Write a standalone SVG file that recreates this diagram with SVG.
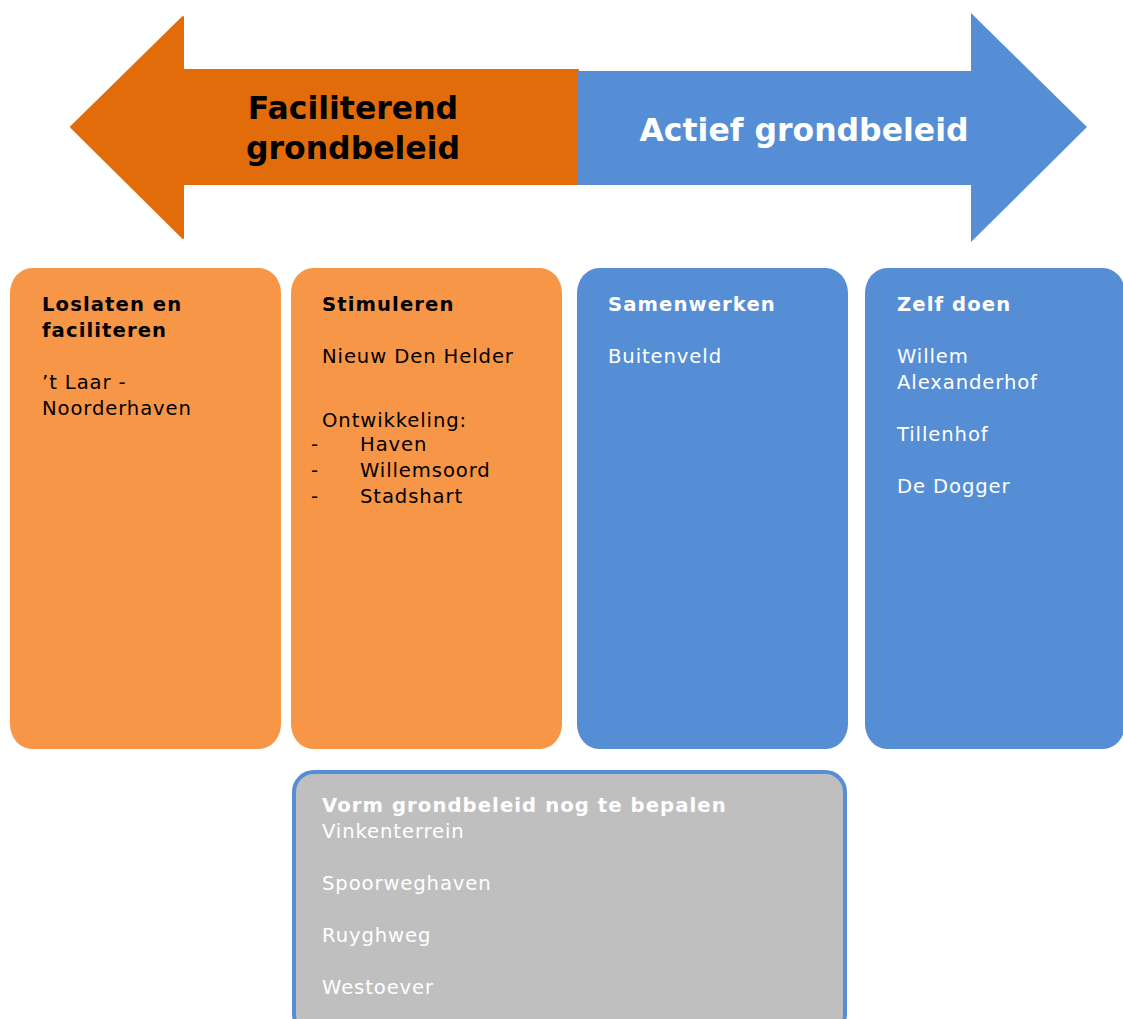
<svg xmlns="http://www.w3.org/2000/svg" width="1123" height="1019" viewBox="0 0 1123 1019">
<style>
text{font-family:"DejaVu Sans","Verdana",sans-serif;font-size:19.6px;letter-spacing:0.9px}
.b{font-weight:bold;letter-spacing:1.1px}
.k{fill:#000}
.w{fill:#fff}
.big{font-size:31.5px;font-weight:bold;letter-spacing:0}
.or{fill:#F79646}
.bl{fill:#558ED5}
</style>
<rect width="1123" height="1019" fill="#fff"/>
<g id="arrow-left">
<path d="M71 127 L183 17 L183 70 L578 70 L578 184 L183 184 L183 238 Z" fill="#E36C0A" stroke="#E36C0A" stroke-width="2" stroke-linejoin="round"/>
<text class="big k" x="353" y="119" text-anchor="middle">Faciliterend</text>
<text class="big k" x="353" y="159" text-anchor="middle">grondbeleid</text>
</g>
<g id="arrow-right">
<path d="M577 71 L971 71 L971 13 L1087 127 L971 242 L971 185 L577 185 Z" fill="#558ED5"/>
<text class="big w" x="804" y="141" text-anchor="middle">Actief grondbeleid</text>
</g>
<g id="box-loslaten">
<rect class="or" x="10" y="268" width="271" height="481" rx="22" ry="25"/>
<text class="b k" x="42" y="311">Loslaten en</text>
<text class="b k" x="42" y="337">faciliteren</text>
<text class="k" x="42" y="389">’t Laar -</text>
<text class="k" x="42" y="415">Noorderhaven</text>
</g>
<g id="box-stimuleren">
<rect class="or" x="291" y="268" width="271" height="481" rx="22" ry="25"/>
<text class="b k" x="322" y="311">Stimuleren</text>
<text class="k" x="322" y="363">Nieuw Den Helder</text>
<text class="k" x="322" y="427">Ontwikkeling:</text>
<text class="k" x="311" y="451">-</text>
<text class="k" x="360" y="451">Haven</text>
<text class="k" x="311" y="477">-</text>
<text class="k" x="360" y="477">Willemsoord</text>
<text class="k" x="311" y="503">-</text>
<text class="k" x="360" y="503">Stadshart</text>
</g>
<g id="box-samenwerken">
<rect class="bl" x="577" y="268" width="271" height="481" rx="22" ry="25"/>
<text class="b w" x="608" y="311">Samenwerken</text>
<text class="w" x="608" y="363">Buitenveld</text>
</g>
<g id="box-zelf-doen">
<rect class="bl" x="865" y="268" width="260" height="481" rx="22" ry="25"/>
<text class="b w" x="897" y="311">Zelf doen</text>
<text class="w" x="897" y="363">Willem</text>
<text class="w" x="897" y="389">Alexanderhof</text>
<text class="w" x="897" y="441">Tillenhof</text>
<text class="w" x="897" y="493">De Dogger</text>
</g>
<g id="box-nog-te-bepalen">
<rect x="294" y="772" width="551" height="262" rx="20" fill="#BFBFBF" stroke="#558ED5" stroke-width="4"/>
<text class="b w" x="322" y="812">Vorm grondbeleid nog te bepalen</text>
<text class="w" x="322" y="838">Vinkenterrein</text>
<text class="w" x="322" y="890">Spoorweghaven</text>
<text class="w" x="322" y="942">Ruyghweg</text>
<text class="w" x="322" y="994">Westoever</text>
</g>
<g id="connectors"/>
</svg>
